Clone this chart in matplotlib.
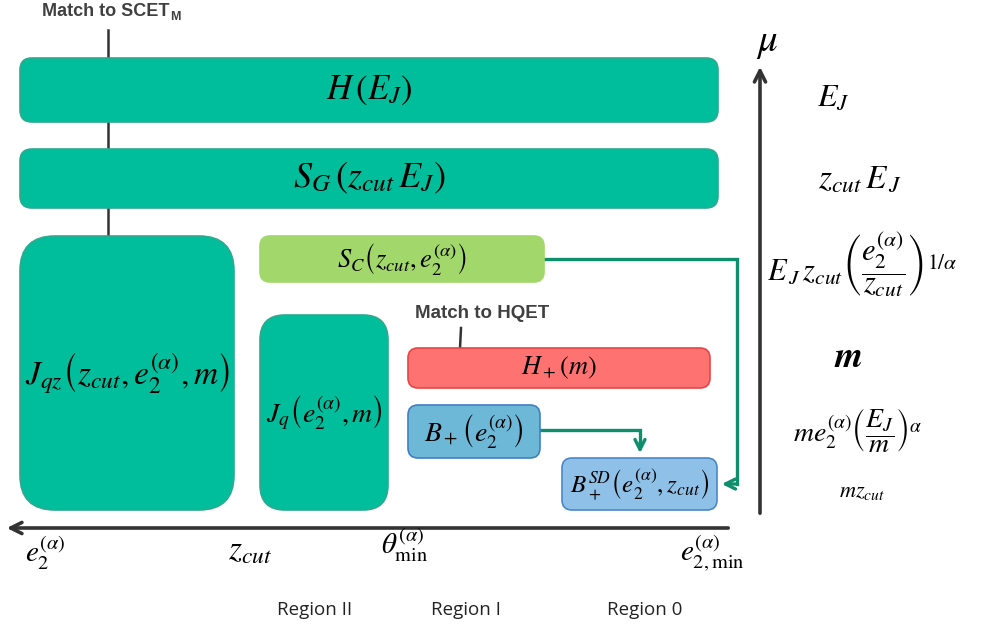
import matplotlib
matplotlib.use("Agg")
import matplotlib.pyplot as plt
from matplotlib.patches import FancyBboxPatch

plt.rcParams['mathtext.fontset'] = 'stix'

# boxes: label, (x0, y0, x1, y1) in pixels, rounding, face, edge
box_labels = [r'$H\,(E_J)$', r'$S_G\,(z_{cut}\,E_J)$',
              r'$J_{qz}\left(z_{cut},e_2^{(\alpha)},m\right)$',
              r'$S_C\left(z_{cut},e_2^{(\alpha)}\right)$',
              r'$J_q\left(e_2^{(\alpha)},m\right)$',
              r'$H_+(m)$', r'$B_+\left(e_2^{(\alpha)}\right)$',
              r'$B_+^{SD}\left(e_2^{(\alpha)},z_{cut}\right)$']
box_rects = [(20, 58, 718, 122), (20, 149, 718, 208), (20, 236, 234, 510),
             (260, 236, 544, 282), (260, 315, 388, 510),
             (408, 348, 710, 388), (408, 405, 540, 458), (562, 458, 717, 510)]
box_round = [12, 12, 35, 10, 25, 10, 10, 10]
box_face = ['#00BE9B', '#00BE9B', '#00BE9B', '#A2D86B', '#00BE9B',
            '#FF7272', '#6DB7D7', '#8FC1E8']
box_edge = ['#2FA98E', '#2FA98E', '#2FA98E', '#A2D86B', '#2FA98E',
            '#E84545', '#3F80C2', '#4A88C8']
box_fs = [25, 26, 24, 19, 20, 19, 20, 18]

# energy scales on the right
scale_labels = [r'$E_J$', r'$z_{cut}\,E_{\,J}$',
                r'$E_{\,J}\,z_{cut}\left(\dfrac{e_2^{(\alpha)}}{z_{cut}}\right)^{1/\alpha}$',
                r'$\boldsymbol{m}$', r'$me_2^{(\alpha)}\left(\dfrac{E_J}{m}\right)^{\alpha}$',
                r'$mz_{cut}$']
scale_pos = [(833, 97), (860, 178), (862, 265), (848, 357), (858, 430), (862, 492)]
scale_fs = [23, 24, 22, 26, 20, 16]

# horizontal axis labels
x_labels = [r'$e_2^{(\alpha)}$', r'$z_{cut}$', r'$\theta_{\min}^{(\alpha)}$',
            r'$e_{2,\min}^{(\alpha)}$']
x_pos = [(45, 553), (250, 550), (405, 545), (712, 553)]
x_fs = [21, 24, 21, 21]

regions = ['Region II', 'Region I', 'Region 0']
region_x = [315, 466, 645]

fig = plt.figure(figsize=(9.83, 6.25), dpi=100)
ax = fig.add_axes([0, 0, 1, 1])
ax.set_xlim(0, 983)
ax.set_ylim(625, 0)
ax.axis('off')

# matching lines
ax.plot([108, 108], [30, 236], color='#333333', lw=1.8, zorder=1)
ax.plot([461, 460], [328, 348], color='#333333', lw=1.8, zorder=1)

for lab, (x0, y0, x1, y1), r, fc, ec, fs in zip(box_labels, box_rects, box_round,
                                                box_face, box_edge, box_fs):
    p = FancyBboxPatch((x0, y0), x1 - x0, y1 - y0,
                       boxstyle='round,pad=0,rounding_size=%d' % r,
                       fc=fc, ec=ec, lw=1.2, zorder=2)
    ax.add_patch(p)
    ax.text((x0 + x1) / 2, (y0 + y1) / 2, lab, fontsize=fs,
            ha='center', va='center', zorder=3)

# green flow arrows
arr_col = '#0E8F6C'
ax.plot([544, 737, 737], [259, 259, 484], color=arr_col, lw=2.4, zorder=1,
        solid_joinstyle='miter')
ax.annotate('', xy=(719, 484), xytext=(738, 484),
            arrowprops=dict(arrowstyle='->', color=arr_col, lw=2.4,
                            mutation_scale=18))
ax.plot([540, 640, 640], [430, 430, 445], color=arr_col, lw=2.4, zorder=1,
        solid_joinstyle='miter')
ax.annotate('', xy=(640, 456), xytext=(640, 440),
            arrowprops=dict(arrowstyle='->', color=arr_col, lw=2.4,
                            mutation_scale=18))

# axes arrows
ax_col = '#333333'
ax.annotate('', xy=(760, 64), xytext=(760, 516),
            arrowprops=dict(arrowstyle='->', color=ax_col, lw=2.6,
                            mutation_scale=20))
ax.annotate('', xy=(4, 528), xytext=(731, 528),
            arrowprops=dict(arrowstyle='->', color=ax_col, lw=2.6,
                            mutation_scale=20))
ax.text(767, 42, r'$\mu$', fontsize=28, ha='center', va='center')

for lab, (x, y), fs in zip(scale_labels, scale_pos, scale_fs):
    ax.text(x, y, lab, fontsize=fs, ha='center', va='center')

for lab, (x, y), fs in zip(x_labels, x_pos, x_fs):
    ax.text(x, y, lab, fontsize=fs, ha='center', va='center')

for lab, x in zip(regions, region_x):
    ax.text(x, 610, lab, fontsize=13.5, family='Open Sans', ha='center',
            va='center', color='#222222')

# matching labels
ax.text(42, 12, 'Match to SCET', fontsize=13, fontweight='bold',
        family='Liberation Sans', color='#404040', ha='left', va='center')
ax.text(170, 17, 'M', fontsize=9, fontweight='bold',
        family='Liberation Sans', color='#404040', ha='left', va='center')
ax.text(415, 313, 'Match to HQET', fontsize=13.5, fontweight='bold',
        family='Liberation Sans', color='#404040', ha='left', va='center')

fig.savefig('out.png', dpi=100)
